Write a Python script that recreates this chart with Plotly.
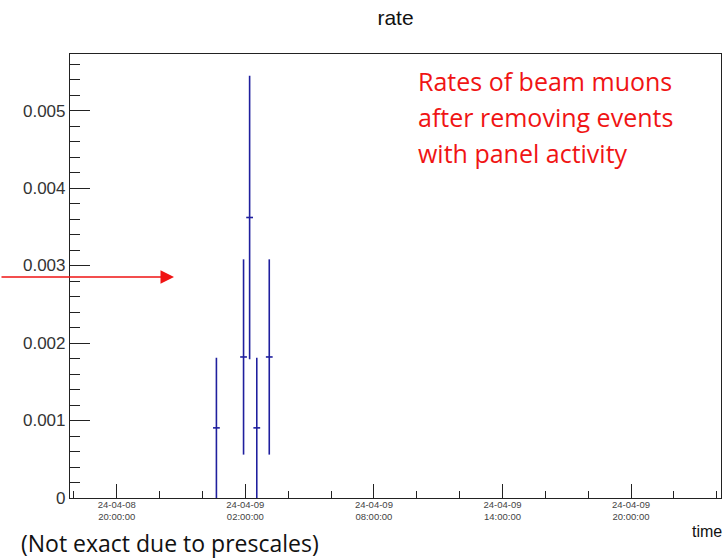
import pandas as pd
import plotly.graph_objects as go

# ---- data ----
times = ["2024-04-09 00:39", "2024-04-09 01:55", "2024-04-09 02:12",
         "2024-04-09 02:32", "2024-04-09 03:07"]
rates = [0.000905, 0.00182, 0.00362, 0.000905, 0.00182]
rate_errors = [0.000905, 0.00126, 0.00183, 0.000905, 0.00126]
bin_half_width_min = 9.5

x_tick_vals = ["2024-04-08 20:00", "2024-04-09 02:00", "2024-04-09 08:00",
               "2024-04-09 14:00", "2024-04-09 20:00"]
x_tick_text = ["24-04-08<br>20:00:00", "24-04-09<br>02:00:00", "24-04-09<br>08:00:00",
               "24-04-09<br>14:00:00", "24-04-09<br>20:00:00"]
y_tick_vals = [0, 0.001, 0.002, 0.003, 0.004, 0.005]
y_tick_text = ["0", "0.001", "0.002", "0.003", "0.004", "0.005"]
x_range = ["2024-04-08 17:49", "2024-04-10 00:12"]
y_range = [0, 0.00573]

note_lines = ["Rates of beam muons", "after removing events", "with panel activity"]

BLUE = "#1f1f9e"
RED = "#f01414"
AX = "#222222"
W, H = 725, 558
ML, MR, MT, MB = 70, 4, 54, 60
PW, PH = W - ML - MR, H - MT - MB


def px_to_paper_x(px):
    return (px - ML) / PW


def px_to_paper_y(py):
    return (H - MB - py) / PH


# horizontal bin-width bars built from the data
half = pd.Timedelta(minutes=bin_half_width_min)
hx, hy = [], []
for t, r in zip(times, rates):
    ts = pd.Timestamp(t)
    hx += [(ts - half).strftime("%Y-%m-%d %H:%M:%S"), (ts + half).strftime("%Y-%m-%d %H:%M:%S"), None]
    hy += [r, r, None]

fig = go.Figure()
fig.add_trace(go.Scatter(
    x=times, y=rates, mode="markers",
    marker=dict(size=1, color=BLUE),
    error_y=dict(type="data", array=rate_errors, color=BLUE, thickness=1.6, width=0),
    showlegend=False, hoverinfo="skip",
))
fig.add_trace(go.Scatter(
    x=hx, y=hy, mode="lines", line=dict(color=BLUE, width=1.6),
    showlegend=False, hoverinfo="skip", connectgaps=False,
))

fig.update_layout(
    width=W, height=H,
    margin=dict(l=ML, r=MR, t=MT, b=MB, pad=0),
    paper_bgcolor="white", plot_bgcolor="white",
    title=dict(text="rate", x=0.5, xref="paper", xanchor="center",
               y=1 - 18 / H, yref="container", yanchor="middle",
               font=dict(family="Liberation Sans", size=21, color="#111")),
    xaxis=dict(
        type="date", range=x_range, tickmode="array", tickvals=x_tick_vals, ticktext=x_tick_text,
        ticks="inside", ticklen=14, tickwidth=1, tickcolor=AX,
        showline=True, linecolor=AX, linewidth=1.2, mirror=True,
        showgrid=False, zeroline=False, ticklabelstandoff=-3,
        tickfont=dict(family="Liberation Sans", size=9.5, color="#444"),
        minor=dict(ticks="inside", ticklen=7, dtick=2 * 3600 * 1000, tick0="2024-04-08 00:00",
                   tickcolor=AX, tickwidth=1, showgrid=False),
    ),
    yaxis=dict(
        range=y_range, tickmode="array", tickvals=y_tick_vals, ticktext=y_tick_text,
        ticks="inside", ticklen=20, tickwidth=1, tickcolor=AX,
        showline=True, linecolor=AX, linewidth=1.2, mirror=True,
        showgrid=False, zeroline=False,
        tickfont=dict(family="Liberation Sans", size=17, color="#333"),
        minor=dict(ticks="inside", ticklen=10, dtick=0.0002, tick0=0,
                   tickcolor=AX, tickwidth=1, showgrid=False),
    ),
)

annotations = []
for i, line in enumerate(note_lines):
    annotations.append(dict(
        text=line, xref="paper", yref="paper",
        x=px_to_paper_x(416), y=px_to_paper_y(81 + 36 * i),
        xanchor="left", yanchor="middle", showarrow=False,
        font=dict(family="Open Sans", size=25, color=RED),
    ))

annotations.append(dict(
    text="time", xref="paper", yref="paper",
    x=px_to_paper_x(724), y=px_to_paper_y(531), xanchor="right", yanchor="middle",
    showarrow=False, font=dict(family="Liberation Sans", size=16, color="#111"),
))
annotations.append(dict(
    text="(Not exact due to prescales)", xref="paper", yref="paper",
    x=px_to_paper_x(19), y=px_to_paper_y(543), xanchor="left", yanchor="middle",
    showarrow=False, font=dict(family="Open Sans", size=23, color="#111"),
))
annotations.append(dict(
    text="", xref="paper", yref="paper",
    x=px_to_paper_x(174), y=px_to_paper_y(277), ax=-174, ay=0,
    showarrow=True, arrowhead=2, arrowsize=1.8, arrowwidth=1.5, arrowcolor=RED,
    standoff=0, startstandoff=0,
))
fig.update_layout(annotations=annotations)

fig.write_html("out.html")
